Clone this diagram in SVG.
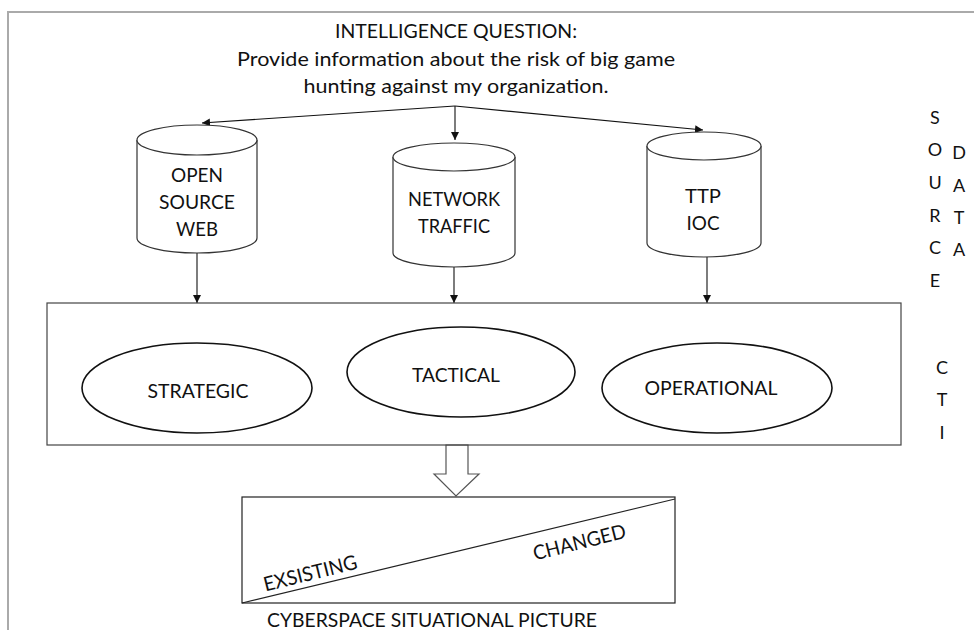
<svg xmlns="http://www.w3.org/2000/svg" width="974" height="630" viewBox="0 0 974 630">
<style>
text{font-family:Lato,"Liberation Sans",sans-serif;fill:#111;text-anchor:middle}
.t{font-size:20px}
.n{font-size:20px}
.s{font-size:18px}
.cyl{fill:#fff;stroke:#333;stroke-width:1.2}
.ell{fill:#fff;stroke:#111;stroke-width:1.6}
.ln{fill:none;stroke:#111;stroke-width:1.1}
</style>
<defs>
<marker id="ah" viewBox="0 0 10 10" refX="10" refY="5" markerWidth="8" markerHeight="8" markerUnits="userSpaceOnUse" orient="auto">
<path d="M0,0 L10,5 L0,10 z" fill="#111"/>
</marker>
</defs>
<path d="M8,630 V12 H974" fill="none" stroke="#aaa" stroke-width="2"/>
<g id="question">
<text class="t" x="456" y="38" textLength="242" lengthAdjust="spacingAndGlyphs">INTELLIGENCE QUESTION:</text>
<text class="t" x="456" y="66" textLength="438" lengthAdjust="spacingAndGlyphs">Provide information about the risk of big game</text>
<text class="t" x="456" y="93" textLength="305" lengthAdjust="spacingAndGlyphs">hunting against my organization.</text>
</g>
<g id="connectors">
<path class="ln" d="M455,106 L202,123" marker-end="url(#ah)"/>
<path class="ln" d="M455,106 L455,140" marker-end="url(#ah)"/>
<path class="ln" d="M455,106 L703,130" marker-end="url(#ah)"/>
<path class="ln" d="M197,253 L197,303" marker-end="url(#ah)"/>
<path class="ln" d="M454,267 L454,303" marker-end="url(#ah)"/>
<path class="ln" d="M707,257 L707,303" marker-end="url(#ah)"/>
<polygon points="446,445 468,445 468,474 479,474 456,496 434,474 446,474" fill="#fff" stroke="#555" stroke-width="1.2"/>
</g>
<g id="open-source-web">
<path class="cyl" d="M137,140 V238 A60,15 0 0 0 257,238 V140"/>
<ellipse class="cyl" cx="197" cy="140" rx="60" ry="15"/>
<text class="n" x="197" y="182" textLength="52" lengthAdjust="spacingAndGlyphs">OPEN</text>
<text class="n" x="197" y="209" textLength="76" lengthAdjust="spacingAndGlyphs">SOURCE</text>
<text class="n" x="197" y="236" textLength="42" lengthAdjust="spacingAndGlyphs">WEB</text>
</g>
<g id="network-traffic">
<path class="cyl" d="M393,157 V253 A61,14 0 0 0 515,253 V157"/>
<ellipse class="cyl" cx="454" cy="157" rx="61" ry="14"/>
<text class="n" x="454" y="206" textLength="92" lengthAdjust="spacingAndGlyphs">NETWORK</text>
<text class="n" x="454" y="233" textLength="72" lengthAdjust="spacingAndGlyphs">TRAFFIC</text>
</g>
<g id="ttp-ioc">
<path class="cyl" d="M647,146 V243 A57,14 0 0 0 761,243 V146"/>
<ellipse class="cyl" cx="704" cy="146" rx="57" ry="14"/>
<text class="n" x="703" y="203" textLength="36" lengthAdjust="spacingAndGlyphs">TTP</text>
<text class="n" x="703" y="230" textLength="33" lengthAdjust="spacingAndGlyphs">IOC</text>
</g>
<g id="cti">
<rect x="47" y="303" width="854" height="142" fill="none" stroke="#444" stroke-width="1.2"/>
</g>
<g id="strategic">
<ellipse class="ell" cx="197" cy="388" rx="115" ry="45"/>
<text class="n" x="198" y="398" textLength="101" lengthAdjust="spacingAndGlyphs">STRATEGIC</text>
</g>
<g id="tactical">
<ellipse class="ell" cx="461" cy="372" rx="114" ry="45"/>
<text class="n" x="456" y="382" textLength="88" lengthAdjust="spacingAndGlyphs">TACTICAL</text>
</g>
<g id="operational">
<ellipse class="ell" cx="717" cy="388" rx="115" ry="45"/>
<text class="n" x="711" y="395" textLength="133" lengthAdjust="spacingAndGlyphs">OPERATIONAL</text>
</g>
<g id="situational-picture">
<rect x="242" y="497" width="433" height="106" fill="none" stroke="#222" stroke-width="1.2"/>
<line x1="242" y1="603" x2="675" y2="499" stroke="#222" stroke-width="1.1"/>
<text class="n" transform="translate(312,580) rotate(-14)" textLength="96" lengthAdjust="spacingAndGlyphs">EXSISTING</text>
<text class="n" transform="translate(581,549) rotate(-14)" textLength="95" lengthAdjust="spacingAndGlyphs">CHANGED</text>
<text class="n" x="432" y="627" textLength="330" lengthAdjust="spacingAndGlyphs">CYBERSPACE SITUATIONAL PICTURE</text>
</g>
<g id="source-label">
<text class="s" x="935" y="124">S</text>
<text class="s" x="935" y="156">O</text>
<text class="s" x="935" y="189">U</text>
<text class="s" x="935" y="222">R</text>
<text class="s" x="935" y="254">C</text>
<text class="s" x="935" y="287">E</text>
</g>
<g id="data-label">
<text class="s" x="959" y="159">D</text>
<text class="s" x="959" y="192">A</text>
<text class="s" x="959" y="224">T</text>
<text class="s" x="959" y="256">A</text>
</g>
<g id="cti-label">
<text class="s" x="942" y="374">C</text>
<text class="s" x="942" y="406">T</text>
<text class="s" x="942" y="439">I</text>
</g>
</svg>
